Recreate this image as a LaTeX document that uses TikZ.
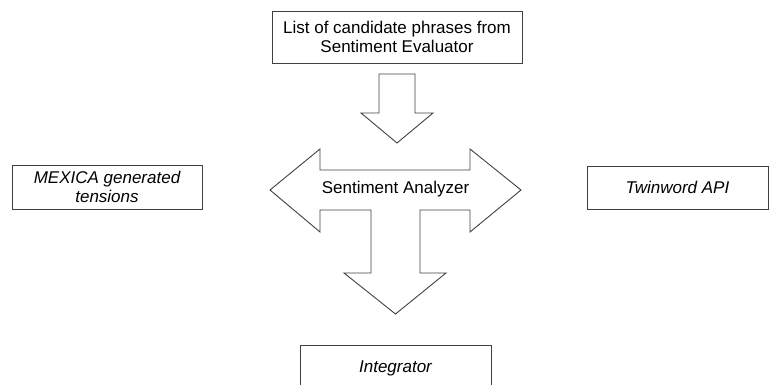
\documentclass[tikz,border=0pt]{standalone}
\usepackage{fontspec}
\setmainfont{Liberation Sans}
\begin{document}
\begin{tikzpicture}[x=1pt,y=-1pt,
  outline/.style={draw=black!75,line width=0.9pt,line join=miter},
  box/.style={outline,fill=white,inner sep=0pt,align=center,
    font=\fontsize{17}{19}\selectfont},
  boxit/.style={box,font=\fontsize{17}{19}\selectfont\itshape}]
\clip (0,0) rectangle (770,385);
\useasboundingbox (0,0) rectangle (770,385);

% source and target boxes
\node[box,minimum width=250pt,minimum height=52pt] (phrases) at (397,37)
  {List of candidate phrases from\\Sentiment Evaluator};
\node[boxit,minimum width=190pt,minimum height=44pt] (mexica) at (107,187)
  {MEXICA generated\\tensions};
\node[boxit,minimum width=181pt,minimum height=43pt] (twinword) at (677.5,187.5)
  {Twinword API};
\node[boxit,minimum width=191pt,minimum height=46pt] (integrator) at (395.5,368)
  {Integrator};

% block arrow from the phrase list down to the analyzer
\draw[outline] (379,74) -- (415,74) -- (415,113) -- (433,113) -- (397,143)
  -- (361,113) -- (379,113) -- cycle;

% analyzer: double arrow left/right with a stem pointing down
\draw[outline] (270,190) -- (320,149) -- (320,170) -- (470,170) -- (470,149)
  -- (521,190) -- (470,232) -- (470,210) -- (420,210) -- (420,273)
  -- (446,273) -- (395.5,314) -- (344,273) -- (371,273) -- (371,210)
  -- (320,210) -- (320,232) -- cycle;
\node[font=\fontsize{17}{19}\selectfont] (analyzer) at (395.5,189) {Sentiment Analyzer};
\end{tikzpicture}
\end{document}
